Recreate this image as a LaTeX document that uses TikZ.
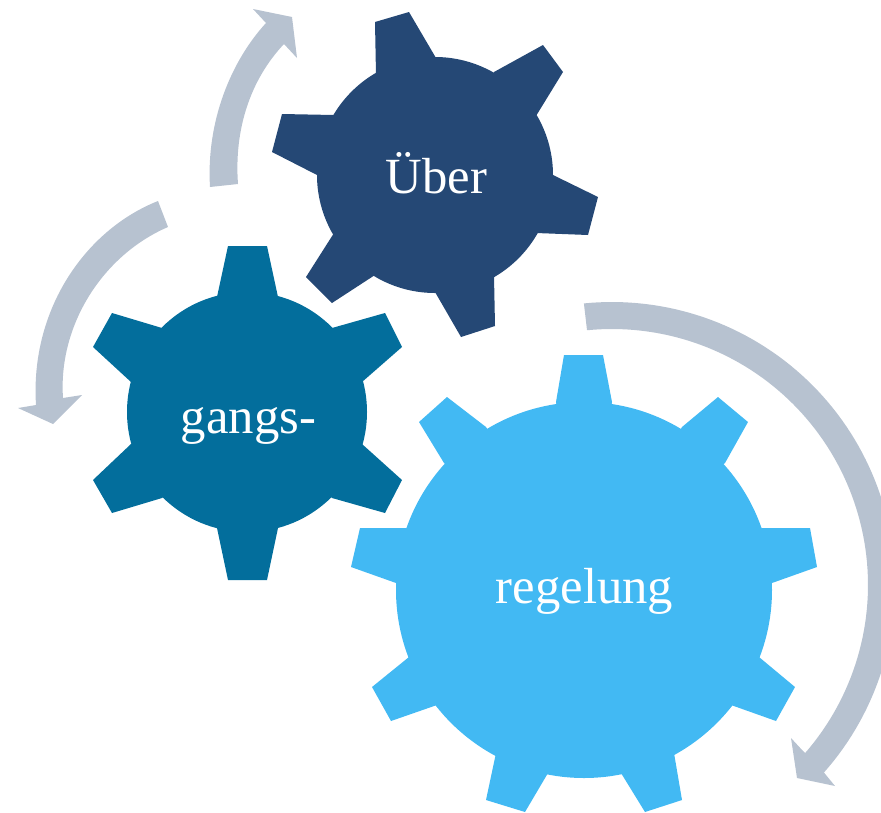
\documentclass[tikz,border=0pt]{standalone}
\usepackage{fontspec}
\setmainfont{Liberation Serif}
\definecolor{gearDark}{HTML}{254875}
\definecolor{gearMid}{HTML}{036E9C}
\definecolor{gearLight}{HTML}{42B9F3}
\definecolor{arrowGrey}{HTML}{B7C2D0}
\tikzset{
  gearlabel/.style={text=white,anchor=base,inner sep=0pt,font=\fontsize{50.7}{60}\selectfont},
  cyclearrow/.style={fill=arrowGrey,draw=none}
}
\begin{document}
\begin{tikzpicture}[x=1pt,y=-1pt]
\clip (0,0) rectangle (881,812);
% arrows
\fill[cyclearrow] (210,187) .. controls (206,120) and (232,60) .. (266,23) -- (253,9) -- (292,17) -- (297,58) -- (284,44)
  .. controls (250,80) and (234,130) .. (238,184) -- cycle;
\fill[cyclearrow] (158,201) .. controls (85,230) and (30,310) .. (36,405) -- (18,408) -- (53,424) -- (82,395) -- (63,398)
  .. controls (58,325) and (103,255) .. (168,227) -- cycle;
\fill[cyclearrow] plot[domain=-95.7:41.5,samples=90] ({612+283*cos(\x)},{585+283*sin(\x)})
  -- (835,786) -- (797,778) -- (791,738) -- (803,751)
  -- plot[domain=41:-95.6,samples=90] ({612+256*cos(\x)},{585+256*sin(\x)}) -- cycle;
% upper gear
\fill[gearDark] (435,175) circle[radius=118]
  (376,75) -- (375,22) -- (409,12) -- (436,58) -- (435,175) -- cycle;
\fill[gearDark] (494,72) -- (543,45) -- (563,72) -- (536,116) -- (435,175) -- cycle;
\fill[gearDark] (553,175) -- (598,197) -- (588,235) -- (536,233) -- (435,175) -- cycle;
\fill[gearDark] (494,276) -- (495,326) -- (461,337) -- (435,292) -- (435,175) -- cycle;
\fill[gearDark] (375,275) -- (332,303) -- (306,277) -- (334,233) -- (435,175) -- cycle;
\fill[gearDark] (317,175) -- (272,152) -- (282,114) -- (334,115) -- (435,175) -- cycle;
% left gear
\fill[gearMid] (247,412) circle[radius=120];
\fill[gearMid] (217,297) -- (228,246) -- (267,246) -- (278,297) -- (247,412) -- cycle;
\fill[gearMid] (332,328) -- (385,313) -- (402,347) -- (362,382) -- (247,412) -- cycle;
\fill[gearMid] (362,444) -- (402,480) -- (385,513) -- (332,498) -- (247,412) -- cycle;
\fill[gearMid] (278,528) -- (267,580) -- (228,580) -- (217,528) -- (247,412) -- cycle;
\fill[gearMid] (162,498) -- (112,513) -- (93,480) -- (131,444) -- (247,412) -- cycle;
\fill[gearMid] (131,382) -- (93,347) -- (112,313) -- (162,328) -- (247,412) -- cycle;
% large gear
\fill[gearLight] (584,590) circle[radius=188];
\fill[gearLight] (556,402) -- (564,355) -- (603,355) -- (612,402) -- (584,590) -- cycle;
\fill[gearLight] (682,427) -- (718,397) -- (748,422) -- (725,463) -- (584,590) -- cycle;
\fill[gearLight] (762,528) -- (810,528) -- (817,567) -- (772,583) -- (584,590) -- cycle;
\fill[gearLight] (759,657) -- (795,687) -- (776,721) -- (731,705) -- (584,590) -- cycle;
\fill[gearLight] (674,753) -- (682,800) -- (645,812) -- (621,773) -- (584,590) -- cycle;
\fill[gearLight] (548,773) -- (525,812) -- (486,800) -- (496,753) -- (584,590) -- cycle;
\fill[gearLight] (437,705) -- (391,721) -- (372,687) -- (409,657) -- (584,590) -- cycle;
\fill[gearLight] (396,583) -- (351,567) -- (360,528) -- (406,528) -- (584,590) -- cycle;
\fill[gearLight] (444,463) -- (419,422) -- (447,397) -- (486,427) -- (584,590) -- cycle;
% labels
\node[gearlabel] (ueber) at (436.5,193) {Über};
\node[gearlabel] (gangs) at (248.5,433) {gangs-};
\node[gearlabel] (regel) at (584.5,603) {regelung};
\end{tikzpicture}
\end{document}
